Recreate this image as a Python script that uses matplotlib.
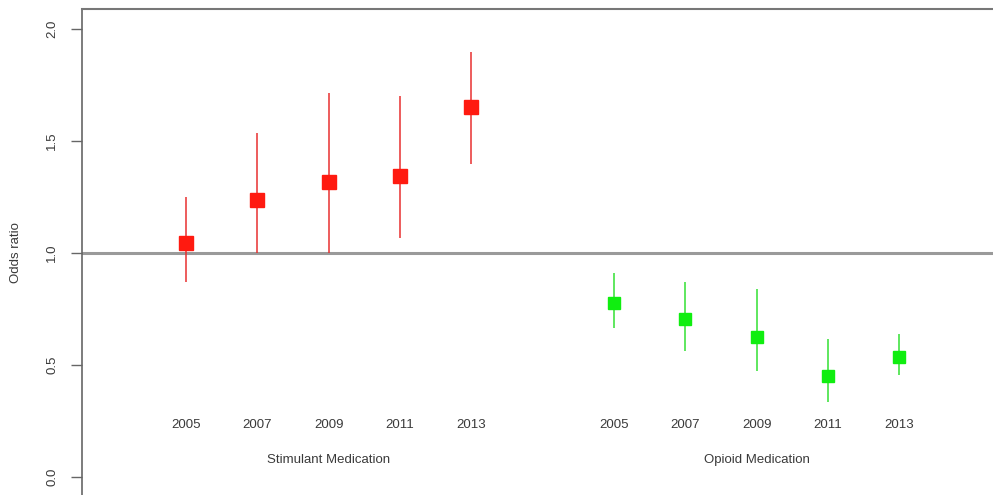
import matplotlib
matplotlib.use("Agg")
import matplotlib.pyplot as plt

plt.rcParams['font.family'] = ['Liberation Sans', 'DejaVu Sans']

years = ["2005", "2007", "2009", "2011", "2013"]
stim_or = [1.045, 1.237, 1.316, 1.344, 1.650]
stim_lo = [0.87, 1.00, 1.00, 1.066, 1.396]
stim_hi = [1.25, 1.537, 1.713, 1.702, 1.897]
opi_or = [0.775, 0.705, 0.624, 0.452, 0.534]
opi_lo = [0.664, 0.562, 0.473, 0.336, 0.455]
opi_hi = [0.909, 0.872, 0.838, 0.616, 0.638]
groups = ["Stimulant Medication", "Opioid Medication"]
yticks = [0.0, 0.5, 1.0, 1.5, 2.0]

fig = plt.figure(figsize=(9.93, 4.95), dpi=100)
ax_w = 1 - 82/993 + 0.01
ax = fig.add_axes([82/993, 0.0, ax_w, 1 - 9/495])

stim_x = [1, 2, 3, 4, 5]
opi_x = [7, 8, 9, 10, 11]

ax.axhline(1.0, color="#9a9a9a", lw=2.2, zorder=1)

ax.vlines(stim_x, stim_lo, stim_hi, color="#e83030", lw=1.1, zorder=2)
ax.plot(stim_x, stim_or, ls="none", marker="s", ms=9.5, color="#ff1a10", zorder=3)
ax.vlines(opi_x, opi_lo, opi_hi, color="#33e033", lw=1.1, zorder=2)
ax.plot(opi_x, opi_or, ls="none", marker="s", ms=9.0, color="#10ee10", zorder=3)

tc = "#3a3a3a"
for xs in (stim_x, opi_x):
    for x, yr in zip(xs, years):
        ax.text(x, 0.232, yr, ha="center", va="center", fontsize=9.5, color=tc)
ax.text(3, 0.076, groups[0], ha="center", va="center", fontsize=9.5, color=tc)
ax.text(9, 0.076, groups[1], ha="center", va="center", fontsize=9.5, color=tc)

ax.set_xlim(1 - 104/71.4, 1 + (993 - 186)/71.4 + 0.15)
ax.set_ylim(-0.08, 2.089)
ax.set_xticks([])
ax.set_yticks(yticks)
ax.set_yticklabels([f"{v:.1f}" for v in yticks], rotation=90, va="center",
                   fontsize=9.5, color=tc)
ax.tick_params(axis="y", length=8, width=1, color="#666666", pad=9)
ax.set_ylabel("Odds ratio", fontsize=9.5, color=tc)
ax.yaxis.set_label_coords(-60/(ax_w*993), 242/486)

for s in ("right", "bottom"):
    ax.spines[s].set_visible(False)
ax.spines["left"].set_color("#666666")
ax.spines["left"].set_linewidth(1.2)
ax.spines["top"].set_color("#777777")
ax.spines["top"].set_linewidth(1.5)

fig.savefig("out.png", dpi=100)
